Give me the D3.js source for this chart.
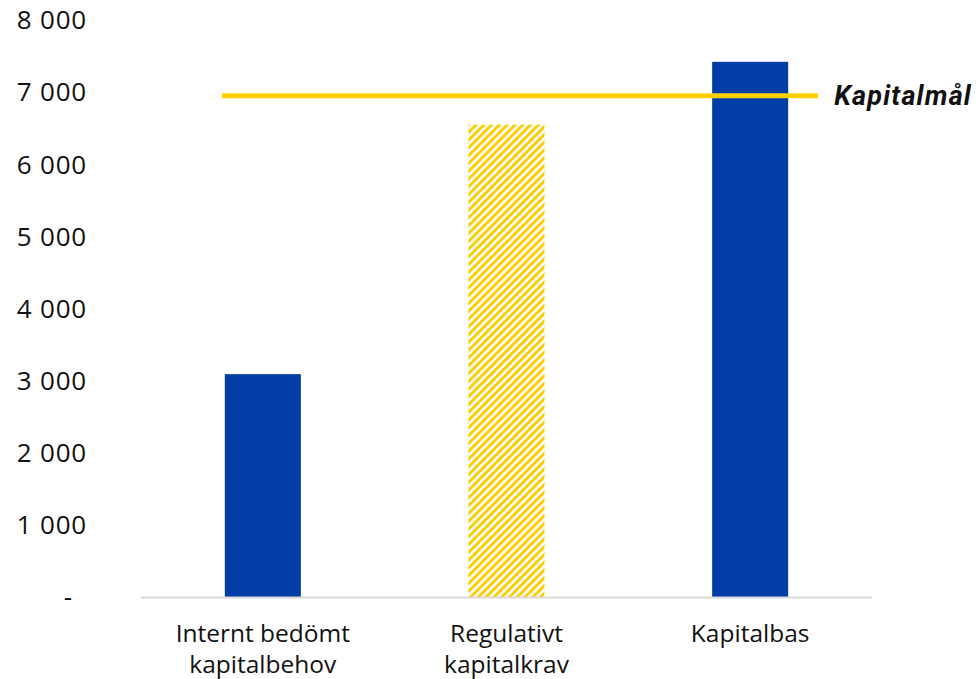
<!DOCTYPE html>
<html><head><meta charset="utf-8">
<script src="https://cdn.jsdelivr.net/npm/d3@7/dist/d3.min.js"></script>
<style>body{margin:0;background:#fff}svg{display:block}</style>
</head><body>
<svg id="c" width="979" height="679"></svg>
<script>
const categories = [["Internt bedömt","kapitalbehov"],["Regulativt","kapitalkrav"],["Kapitalbas"]];
const values = [3090, 6550, 7420];
const hatched = [false, true, false];
const targetValue = 6950;
const targetLabel = "Kapitalmål";
const yTicks = [0,1000,2000,3000,4000,5000,6000,7000,8000];

const svg = d3.select("#c");
const font = "'Open Sans', sans-serif";
const blue = "#003DA5", yellow = "#FFCC00";

const defs = svg.append("defs");
const pat = defs.append("pattern").attr("id","hatch").attr("patternUnits","userSpaceOnUse")
  .attr("width",5.5).attr("height",5.5).attr("patternTransform","rotate(45)");
pat.append("rect").attr("width",5.5).attr("height",5.5).attr("fill","#fff");
pat.append("rect").attr("x",0).attr("width",2.9).attr("height",5.5).attr("fill",yellow);

const x = d3.scaleBand().domain(d3.range(categories.length)).range([141,872]).paddingInner(0.688).paddingOuter(0.344);
const y = d3.scaleLinear().domain([0,8000]).range([597,20]);

// y tick labels
const fmt = v => v===0 ? "-" : d3.format(",")(v).replace(",", " ");
svg.append("g").selectAll("text").data(yTicks).join("text")
  .attr("x", d => d===0 ? 73 : 87).attr("y", d => y(d)).attr("dy","0.36em")
  .attr("text-anchor","end").attr("font-family",font).attr("font-size",26)
  .attr("letter-spacing", 0.8).attr("fill","#111")
  .text(fmt);

// bars
svg.append("g").selectAll("rect").data(values).join("rect")
  .attr("x",(d,i)=>x(i)).attr("width",x.bandwidth())
  .attr("y",d=>y(d)).attr("height",d=>y(0)-y(d))
  .attr("fill",(d,i)=>hatched[i]?"url(#hatch)":blue);

// axis line
svg.append("line").attr("x1",141).attr("x2",872).attr("y1",y(0)+0.5).attr("y2",y(0)+0.5)
  .attr("stroke","#d9d9d9").attr("stroke-width",2);

// target line
svg.append("line").attr("x1",222).attr("x2",818).attr("y1",y(targetValue)).attr("y2",y(targetValue))
  .attr("stroke","#FFD000").attr("stroke-width",5);
svg.append("text").attr("x",972).attr("y",y(targetValue)).attr("dy","0.36em").attr("text-anchor","end")
  .attr("font-family","Roboto, sans-serif").attr("font-weight","bold").attr("font-style","italic")
  .attr("font-size",27).attr("letter-spacing",1.2).attr("fill","#111").text(targetLabel);

// category labels
const cg = svg.append("g").selectAll("text").data(categories).join("text")
  .attr("x",(d,i)=>x(i)+x.bandwidth()/2).attr("y",633)
  .attr("text-anchor","middle").attr("font-family",font).attr("font-size",24.5).attr("fill","#111");
cg.selectAll("tspan").data(d=>d).join("tspan")
  .attr("x",function(){return this.parentNode.getAttribute("x");})
  .attr("dy",(d,i)=>i===0?"0.36em":"31").text(d=>d);
</script>
</body></html>
